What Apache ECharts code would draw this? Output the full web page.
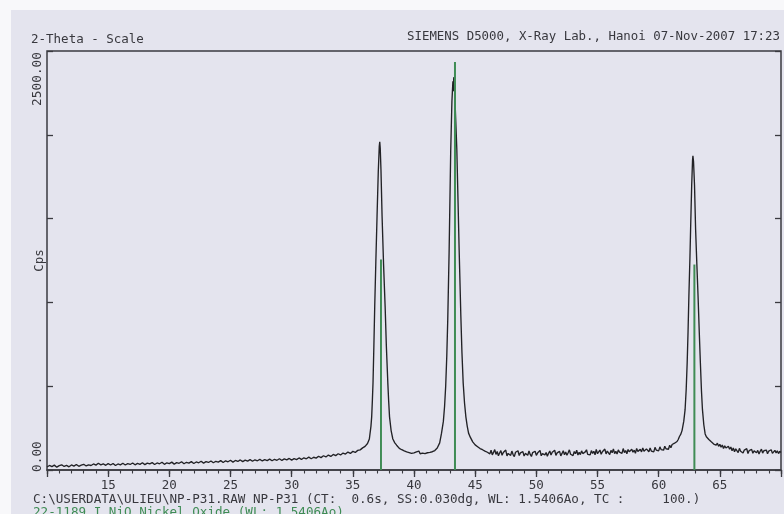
<!DOCTYPE html>
<html>
<head>
<meta charset="utf-8">
<script src="https://cdn.jsdelivr.net/npm/echarts/dist/echarts.min.js"></script>
<style>
html,body{margin:0;padding:0;background:#f8f8fa;}
#c{width:784px;height:514px;}
</style>
</head>
<body>
<div id="c"></div>
<script>
// ---- tick labels / texts ----
const xTickLabels = [15, 20, 25, 30, 35, 40, 45, 50, 55, 60, 65];
const yTickLabels = ['0.00', '2500.00'];
const yAxisTitle = 'Cps';
const headerLeft = '2-Theta - Scale';
const headerRight = 'SIEMENS D5000, X-Ray Lab., Hanoi 07-Nov-2007 17:23';
const footerScan = 'C:\\USERDATA\\ULIEU\\NP-P31.RAW NP-P31 (CT:  0.6s, SS:0.030dg, WL: 1.5406Ao, TC :     100.)';
const footerRef = '22-1189 I NiO Nickel Oxide (WL: 1.5406Ao)';

// ---- measured scan: [2-theta, Cps] ----
const scanLowAngle = [
  [10.0,18],[10.2,27],[10.4,20],[10.6,29],[10.8,17],[11.0,26],[11.2,31],[11.4,21],[11.6,28],[11.8,19],
  [12.0,30],[12.2,23],[12.4,33],[12.6,22],[12.8,29],[13.0,34],[13.2,24],[13.4,31],[13.6,27],[13.8,36],
  [14.0,29],[14.2,40],[14.4,31],[14.6,37],[14.8,28],[15.0,38],[15.2,30],[15.4,39],[15.6,27],[15.8,36],
  [16.0,31],[16.2,40],[16.4,30],[16.6,38],[16.8,33],[17.0,42],[17.2,31],[17.4,39],[17.6,34],[17.8,43],
  [18.0,32],[18.2,41],[18.4,36],[18.6,44],[18.8,33],[19.0,42],[19.2,37],[19.4,46],[19.6,34],[19.8,43],
  [20.0,38],[20.2,47],[20.4,35],[20.6,44],[20.8,40],[21.0,49],[21.2,37],[21.4,46],[21.6,41],[21.8,50],
  [22.0,39],[22.2,48],[22.4,43],[22.6,52],[22.8,41],[23.0,50],[23.2,45],[23.4,54],[23.6,43],[23.8,52],
  [24.0,47],[24.2,56],[24.4,45],[24.6,55],[24.8,49],[25.0,58],[25.2,47],[25.4,57],[25.6,51],[25.8,60],
  [26.0,50],[26.2,59],[26.4,53],[26.6,62],[26.8,52],[27.0,61],[27.2,55],[27.4,63],[27.6,54],[27.8,62],
  [28.0,56],[28.2,65],[28.4,55],[28.6,64],[28.8,58],[29.0,67],[29.2,57],[29.4,66],[29.6,60],[29.8,69],
  [30.0,59],[30.2,68],[30.4,62],[30.6,72],[30.8,63],[31.0,73],[31.2,67],[31.4,77],[31.6,67],[31.8,76],
  [32.0,71],[32.2,82],[32.4,74],[32.6,85],[32.8,78],[33.0,89],[33.2,81],[33.4,93],[33.6,86],[33.8,97],
  [34.0,90],[34.2,101],[34.4,95],[34.6,107],[34.8,99],[35.0,111],[35.2,105],[35.4,117],[35.6,120],[35.8,132],
  [36.0,141],[36.2,158]
];
const peak111 = [
  [36.35,185],[36.48,260],[36.54,317],[36.60,420],[36.65,520],[36.72,740],[36.79,977],[36.88,1240],
  [36.98,1515],[37.08,1780],[37.16,1930],[37.20,1958],[37.24,1920],[37.30,1790],[37.39,1515],[37.51,1230],
  [37.64,977],[37.74,740],[37.86,520],[37.93,410],[38.00,317],[38.13,235],[38.27,185],[38.43,162],
  [38.58,148],[38.7,138],[38.8,129],[38.9,135],[39.0,121],[39.1,127],[39.2,114],[39.3,120],[39.4,108],[39.5,116]
];
const scanMid = [
  [39.6,104],[39.7,112],[39.8,99],[39.9,110],[40.0,102],[40.1,96],[40.2,108],[40.3,100],[40.4,113],[40.5,97],
  [40.6,106],[40.7,101],[40.8,111],[40.9,98],[41.0,107],[41.1,103],[41.2,114],[41.3,105],[41.4,112],[41.5,109],
  [41.6,118],[41.7,116],[41.8,126],[41.9,131],[42.0,142]
];
const peak200 = [
  [42.1,162],[42.25,220],[42.4,290],[42.5,380],[42.59,500],[42.68,680],[42.76,900],[42.87,1300],
  [43.0,1900],[43.1,2200],[43.18,2320],[43.22,2260],[43.25,2344],[43.3,2300],[43.38,2150],[43.5,1914],
  [43.6,1600],[43.69,1316],[43.83,917],[43.92,700],[44.02,520],[44.13,400],[44.24,317],[44.35,262],[44.46,220],
  [44.6,196],[44.7,186],[44.8,168],[44.9,172],[45.0,150],[45.1,158],[45.2,139],[45.3,146],[45.4,128],
  [45.5,137],[45.6,121],[45.7,130],[45.8,113],[45.9,124],[46.0,106]
];
const scanHigh = [
  [46.1,112],[46.2,96],[46.3,118],[46.4,90],[46.5,105],[46.6,122],[46.7,93],[46.8,110],[46.9,85],[47.0,101],
  [47.1,116],[47.2,88],[47.3,104],[47.4,95],[47.5,119],[47.6,84],[47.7,99],[47.8,108],[47.9,87],[48.0,113],
  [48.1,92],[48.2,80],[48.3,106],[48.4,97],[48.5,115],[48.6,86],[48.7,102],[48.8,91],[48.9,110],[49.0,83],
  [49.1,99],[49.2,107],[49.3,88],[49.4,114],[49.5,93],[49.6,81],[49.7,104],[49.8,96],[49.9,112],[50.0,87],
  [50.1,101],[50.2,92],[50.3,117],[50.4,85],[50.5,98],[50.6,109],[50.7,90],[50.8,104],[50.9,82],[51.0,100],
  [51.1,113],[51.2,89],[51.3,106],[51.4,95],[51.5,118],[51.6,87],[51.7,102],[51.8,93],[51.9,111],[52.0,84],
  [52.1,99],[52.2,115],[52.3,91],[52.4,107],[52.5,88],[52.6,103],[52.7,120],[52.8,94],[52.9,100],[53.0,86],
  [53.1,110],[53.2,97],[53.3,118],[53.4,89],[53.5,105],[53.6,92],[53.7,114],[53.8,98],[53.9,87],[54.0,108],
  [54.1,121],[54.2,93],[54.3,104],[54.4,90],[54.5,116],[54.6,99],[54.7,112],[54.8,91],[54.9,123],[55.0,97],
  [55.1,106],[55.2,119],[55.3,94],[55.4,109],[55.5,101],[55.6,125],[55.7,96],[55.8,113],[55.9,104],[56.0,92],
  [56.1,117],[56.2,103],[56.3,126],[56.4,98],[56.5,111],[56.6,95],[56.7,120],[56.8,107],[56.9,114],[57.0,99],
  [57.1,128],[57.2,104],[57.3,116],[57.4,97],[57.5,122],[57.6,109],[57.7,101],[57.8,124],[57.9,106],[58.0,118],
  [58.1,100],[58.2,129],[58.3,111],[58.4,105],[58.5,123],[58.6,108],[58.7,132],[58.8,112],[58.9,104],[59.0,126],
  [59.1,115],[59.2,109],[59.3,131],[59.4,113],[59.5,124],[59.6,108],[59.7,135],[59.8,119],[59.9,127],[60.0,114],
  [60.1,138],[60.2,122],[60.3,131],[60.4,118],[60.5,142],[60.6,127],[60.7,136],[60.8,124],[60.9,148],[61.0,133],
  [61.1,152],[61.2,141],[61.3,160],[61.4,155]
];
const peak220 = [
  [61.5,170],[61.6,182],[61.7,200],[61.8,212],[61.91,235],[62.05,290],[62.16,360],[62.25,480],[62.33,638],[62.4,820],
  [62.47,1037],[62.55,1250],[62.61,1435],[62.7,1700],[62.77,1850],[62.8,1874],[62.85,1840],[62.93,1700],
  [63.02,1435],[63.12,1230],[63.22,1037],[63.32,820],[63.41,638],[63.5,470],[63.58,360],[63.69,270],
  [63.8,215],[63.9,198],[64.0,204],[64.1,182],[64.2,190],[64.3,168],[64.4,176],[64.5,155],[64.6,166],
  [64.7,148],[64.8,160],[64.9,141],[65.0,153],[65.1,136],[65.2,149],[65.3,128],[65.4,144],[65.5,131],[65.6,138]
];
const scanTail = [
  [65.7,142],[65.8,124],[65.9,137],[66.0,115],[66.1,131],[66.2,109],[66.3,126],[66.4,118],[66.5,104],[66.6,129],
  [66.7,112],[66.8,122],[66.9,101],[67.0,119],[67.1,110],[67.2,127],[67.3,98],[67.4,116],[67.5,107],[67.6,123],
  [67.7,100],[67.8,114],[67.9,121],[68.0,103],[68.1,117],[68.2,96],[68.3,112],[68.4,124],[68.5,101],[68.6,115],
  [68.7,106],[68.8,119],[68.9,97],[69.0,113],[69.1,104],[69.2,121],[69.3,99],[69.4,110],[69.5,117],[69.6,102],
  [69.7,114],[69.8,98],[69.9,111],[70.0,105]
];

// ---- reference pattern 22-1189 NiO: [2-theta, stick height in Cps] ----
const refNiO = [[37.3,1256],[43.35,2434],[62.92,1226]];

const scan = [].concat(scanLowAngle, peak111, scanMid, peak200, scanHigh, peak220, scanTail);

const FONT = '"DejaVu Sans Mono", "Liberation Mono", monospace';
const INK = '#38383e';
const GREEN = '#3f8c55';
const FRAME = '#3a3a40';

const chart = echarts.init(document.getElementById('c'), null, {renderer: 'canvas'});

chart.setOption({
  backgroundColor: '#f8f8fa',
  animation: false,
  grid: {
    left: 47, right: 3, top: 51, bottom: 44,
    show: true, borderColor: FRAME, borderWidth: 1.5, backgroundColor: 'transparent'
  },
  xAxis: [
    {
      type: 'value', position: 'bottom', min: 10, max: 70, interval: 5,
      axisLine: {show: true, onZero: false, lineStyle: {color: FRAME, width: 1.5}},
      axisTick: {show: true, inside: false, length: 7, lineStyle: {color: FRAME, width: 1.3}},
      minorTick: {show: true, splitNumber: 5, length: 3.5, lineStyle: {color: FRAME, width: 1.1}},
      splitLine: {show: false},
      axisLabel: {
        show: true, margin: 9, color: INK, fontFamily: FONT, fontSize: 12.5,
        showMinLabel: false, showMaxLabel: false,
        formatter: v => (xTickLabels.indexOf(v) >= 0 ? String(v) : '')
      }
    },
    {
      type: 'value', position: 'top', min: 10, max: 70, interval: 5,
      axisLine: {show: false},
      axisTick: {show: true, inside: true, length: 4, lineStyle: {color: FRAME, width: 1.3}},
      axisLabel: {show: false}, splitLine: {show: false}
    }
  ],
  yAxis: [
    {
      type: 'value', position: 'left', min: 0, max: 2500, interval: 500,
      axisLine: {show: false},
      axisTick: {show: true, inside: true, length: 6, lineStyle: {color: FRAME, width: 1.3}},
      axisLabel: {show: false}, splitLine: {show: false}
    },
    {
      type: 'value', position: 'right', min: 0, max: 2500, interval: 500,
      axisLine: {show: false},
      axisTick: {show: true, inside: true, length: 6, lineStyle: {color: FRAME, width: 1.3}},
      axisLabel: {show: false}, splitLine: {show: false}
    }
  ],
  series: [
    {
      type: 'line', xAxisIndex: 0, yAxisIndex: 0, data: scan,
      showSymbol: false, symbol: 'none', smooth: false,
      lineStyle: {color: '#222226', width: 1.35}, z: 3
    },
    {
      type: 'bar', xAxisIndex: 0, yAxisIndex: 0, data: refNiO,
      barWidth: 2, itemStyle: {color: GREEN}, z: 4
    }
  ]
});

const y0 = chart.convertToPixel({yAxisIndex: 0}, 0);
const yMax = chart.convertToPixel({yAxisIndex: 0}, 2500);
const xRight = chart.convertToPixel({xAxisIndex: 0}, 70);

chart.setOption({
  graphic: [
    {type: 'rect', z: -10, silent: true, shape: {x: 11, y: 10, width: 784 - 11, height: 514 - 10},
      style: {fill: '#e4e4ee'}},
    {type: 'text', x: 31, y: 40, style: {text: headerLeft, font: '12.5px ' + FONT, fill: INK,
      textAlign: 'left', textVerticalAlign: 'middle'}},
    {type: 'text', x: xRight - 1, y: 37, style: {text: headerRight, font: '12.4px ' + FONT, fill: INK,
      textAlign: 'right', textVerticalAlign: 'middle'}},
    {type: 'text', x: 38, y: y0 + 2, rotation: Math.PI / 2, style: {text: yTickLabels[0],
      font: '12.8px ' + FONT, fill: INK, textAlign: 'left', textVerticalAlign: 'middle'}},
    {type: 'text', x: 38, y: yMax + 1, rotation: Math.PI / 2, style: {text: yTickLabels[1],
      font: '12.8px ' + FONT, fill: INK, textAlign: 'right', textVerticalAlign: 'middle'}},
    {type: 'text', x: 40, y: (y0 + yMax) / 2, rotation: Math.PI / 2, style: {text: yAxisTitle,
      font: '12.5px ' + FONT, fill: INK, textAlign: 'center', textVerticalAlign: 'middle'}},
    {type: 'text', x: 33, y: 500, style: {text: footerScan, font: '12.6px ' + FONT, fill: INK,
      textAlign: 'left', textVerticalAlign: 'middle'}},
    {type: 'text', x: 33, y: 513, style: {text: footerRef, font: '12.6px ' + FONT, fill: GREEN,
      textAlign: 'left', textVerticalAlign: 'middle'}}
  ]
});
</script>
</body>
</html>
